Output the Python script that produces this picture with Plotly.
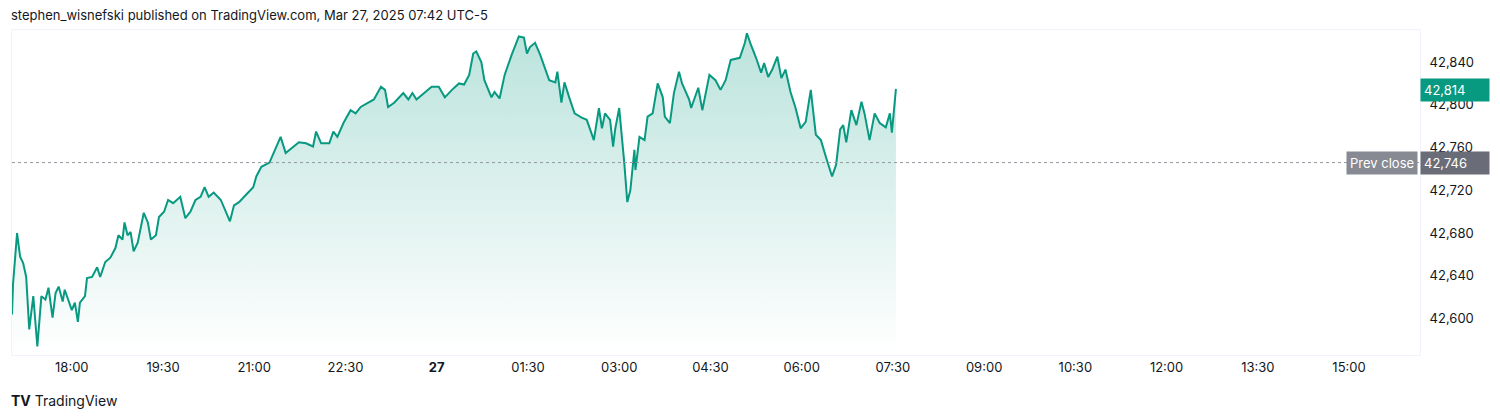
import pandas as pd
import plotly.graph_objects as go

# minutes after 2025-03-26 17:01 and quote values
minutes = [0, 1, 5, 8, 11, 14, 17, 21, 25, 29, 33, 36, 40, 43, 46, 50, 52, 59, 62, 65, 67, 72, 74, 79, 84, 87,
           92, 97, 102, 105, 109, 111, 114, 117, 120, 124, 130, 134, 137, 142, 145, 150, 154, 159, 166, 171,
           176, 181, 186, 190, 194, 199, 206, 211, 215, 219, 224, 229, 234, 238, 241, 246, 254, 258, 265, 270,
           277, 283, 290, 297, 300, 305, 313, 317, 321, 327, 334, 339, 344, 351, 357, 364, 368, 371, 377, 386,
           391, 395, 399, 404, 414, 421, 427, 434, 441, 446, 451, 455, 458, 463, 466, 473, 476, 481, 486, 493,
           500, 505, 508, 511, 516, 521, 526, 530, 536, 538, 542, 545, 550, 555, 562, 567, 574, 579, 582, 585,
           590, 593, 595, 599, 604, 607, 610, 614, 615, 619, 624, 627, 632, 637, 642, 644, 649, 653, 658, 661,
           668, 670, 677, 681, 688, 694, 699, 704, 709, 718, 723, 725, 729, 734, 739, 742, 746, 750, 755, 759,
           763, 768, 773, 778, 783, 788, 793, 798, 803, 809, 813, 817, 820, 823, 828, 833, 838, 841, 846, 851,
           856, 862, 866, 868, 872]
prices = [42604, 42632, 42680, 42658, 42652, 42639, 42590, 42621, 42574, 42621, 42618, 42629, 42601, 42624,
          42630, 42616, 42627, 42608, 42615, 42597, 42615, 42621, 42638, 42639, 42648, 42639, 42653, 42657,
          42666, 42678, 42674, 42690, 42678, 42681, 42663, 42671, 42699, 42690, 42674, 42678, 42695, 42700,
          42711, 42708, 42714, 42694, 42700, 42711, 42714, 42723, 42714, 42718, 42711, 42700, 42691, 42706,
          42709, 42714, 42719, 42723, 42733, 42742, 42746, 42755, 42770, 42755, 42760, 42765, 42764, 42761,
          42775, 42764, 42764, 42775, 42770, 42783, 42795, 42792, 42798, 42802, 42805, 42817, 42814, 42798,
          42802, 42811, 42805, 42811, 42805, 42809, 42817, 42817, 42807, 42814, 42820, 42819, 42828, 42848,
          42850, 42840, 42823, 42807, 42812, 42806, 42828, 42847, 42864, 42863, 42848, 42854, 42858, 42847,
          42833, 42823, 42821, 42831, 42802, 42821, 42806, 42792, 42788, 42786, 42767, 42797, 42778, 42792,
          42786, 42761, 42777, 42797, 42746, 42709, 42720, 42758, 42739, 42770, 42767, 42789, 42792, 42820,
          42807, 42789, 42783, 42811, 42831, 42820, 42805, 42797, 42816, 42795, 42828, 42823, 42814, 42823,
          42842, 42844, 42858, 42867, 42856, 42844, 42830, 42839, 42826, 42833, 42845, 42825, 42833, 42812,
          42797, 42778, 42784, 42814, 42772, 42767, 42751, 42733, 42744, 42777, 42781, 42765, 42795, 42781,
          42803, 42792, 42767, 42792, 42783, 42779, 42792, 42774, 42815]
prev_close = 42746
last_price = 42814
tick_times = ["2025-03-26 18:00", "2025-03-26 19:30", "2025-03-26 21:00", "2025-03-26 22:30",
              "2025-03-27 00:00", "2025-03-27 01:30", "2025-03-27 03:00", "2025-03-27 04:30",
              "2025-03-27 06:00", "2025-03-27 07:30", "2025-03-27 09:00", "2025-03-27 10:30",
              "2025-03-27 12:00", "2025-03-27 13:30", "2025-03-27 15:00"]
tick_labels = ["18:00", "19:30", "21:00", "22:30", "<b>27</b>", "01:30", "03:00", "04:30",
               "06:00", "07:30", "09:00", "10:30", "12:00", "13:30", "15:00"]
price_ticks = [42600, 42640, 42680, 42720, 42760, 42800, 42840]

times = pd.Timestamp("2025-03-26 17:01") + pd.to_timedelta(minutes, unit="m")
y_lo, y_hi = 42566, 42870
green = "#089981"

fig = go.Figure()
fig.add_scatter(
    x=times, y=prices, mode="lines", line=dict(color=green, width=2),
    fill="tozeroy",
    fillgradient=dict(type="vertical", start=y_lo, stop=y_hi,
                      colorscale=[[0, "rgba(8,153,129,0.0)"], [1, "rgba(8,153,129,0.28)"]]),
    hoverinfo="skip",
)
fig.add_hline(y=prev_close, line=dict(color="#9598a1", width=1, dash="dot"))

# page body has an 8px margin, so the figure is a bit smaller than the window
fig.update_layout(
    width=1492, height=412,
    margin=dict(l=4, r=80, t=22, b=65, autoexpand=False),
    paper_bgcolor="white", plot_bgcolor="white",
    font=dict(family="Inter, Roboto, sans-serif", size=13, color="#131722"),
    showlegend=False,
    xaxis=dict(range=["2025-03-26 17:01", "2025-03-27 16:10"], tickvals=tick_times,
               ticktext=tick_labels, showgrid=False, zeroline=False, ticks="", automargin=False,
               showline=True, linecolor="#f0f3fa", mirror=True, ticklabelstandoff=0),
    yaxis=dict(range=[y_lo, y_hi], side="right", tickvals=price_ticks, tickformat=",", automargin=False,
               showgrid=False, zeroline=False, ticks="", showline=True, linecolor="#f0f3fa",
               mirror=True, ticklabelstandoff=6),
)

fig.add_annotation(xref="paper", yref="paper", x=-0.002, y=1.046, xanchor="left", yanchor="middle",
                   text="stephen_wisnefski published on TradingView.com, Mar 27, 2025 07:42 UTC-5",
                   showarrow=False, font=dict(size=13, color="#131722"))
fig.add_annotation(xref="paper", yref="paper", x=-0.002, y=-0.14, xanchor="left", yanchor="middle",
                   text="<b>TV</b> TradingView", showarrow=False, font=dict(size=14, color="#131722"))
fig.add_annotation(xref="paper", yref="y", x=1.0, y=last_price, xanchor="left", yanchor="middle",
                   text=f"{last_price:,}", showarrow=False, bgcolor=green, borderpad=3,
                   font=dict(size=13, color="white"), width=62, align="left")
fig.add_annotation(xref="paper", yref="y", x=1.0, y=prev_close, xanchor="left", yanchor="middle",
                   text=f"{prev_close:,}", showarrow=False, bgcolor="#6a6d78", borderpad=3,
                   font=dict(size=13, color="white"), width=62, align="left")
fig.add_annotation(xref="paper", yref="y", x=0.9985, y=prev_close, xanchor="right", yanchor="middle",
                   text="Prev close", showarrow=False, bgcolor="#878993", borderpad=3,
                   font=dict(size=13, color="white"))

fig.write_html("out.html")
